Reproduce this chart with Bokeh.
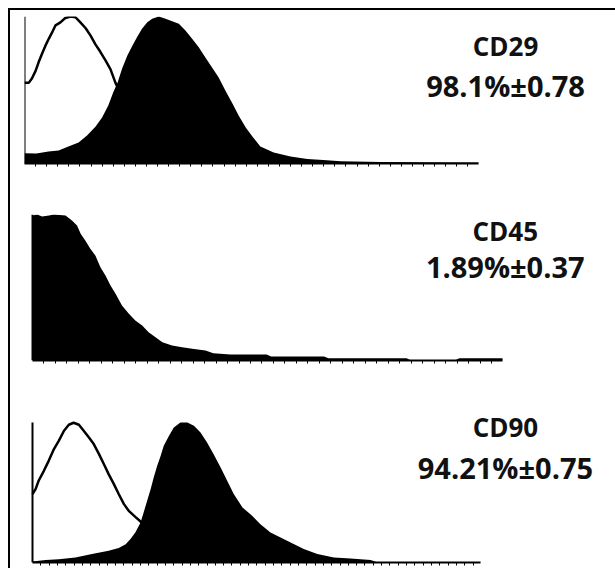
from bokeh.plotting import figure
from bokeh.layouts import column
from bokeh.models import Range1d, LinearAxis, FixedTicker, Label
from bokeh.embed import file_html
from bokeh.resources import INLINE

# ---- data (channel 0..1024, % of max) ----
cd29_iso_ch = [0, 10, 17, 25, 32, 40, 47, 55, 62, 70, 81, 92, 104, 115, 126, 138, 149, 160,
               171, 183, 194, 205, 216, 228, 239, 262, 284, 307, 329, 363]
cd29_iso = [55, 55, 58, 63, 69, 75, 80, 85, 89, 94, 96, 99, 100, 99.5, 96, 92, 87, 81,
            76, 70, 64, 55, 48, 40, 32, 20, 12, 6, 3, 1]
cd29_ch = [0, 27, 54, 77, 99, 122, 141, 160, 175, 189, 200, 210, 220, 232, 243, 254, 265, 277,
           288, 303, 318, 333, 348, 363, 378, 393, 408, 423, 438, 453, 469, 483, 499, 514,
           532, 562, 600, 638, 674, 713, 803, 893, 1024]
cd29 = [7, 6.8, 8.2, 8.8, 11.6, 14.3, 19, 25, 31.3, 39.5, 48.3, 55.1, 64.4, 73.5, 80, 86, 91.6,
        96.1, 98.4, 100, 98.4, 96.8, 95, 90.5, 84.8, 79.1, 72.1, 65.3, 58.5, 49.7, 40.8, 32.7,
        24.5, 18.4, 11.6, 7.5, 4.8, 3.1, 2.4, 1.6, 1, 0.8, 0.7]

cd45_ch = [0, 10, 21, 36, 46, 72, 86, 97, 105, 115, 126, 137, 148, 159, 170, 181, 195, 210,
           224, 239, 253, 268, 283, 304, 326, 348, 377, 394, 431, 510, 520, 635, 645, 815,
           825, 920, 930, 1024]
cd45 = [99.3, 100, 98.6, 99.3, 100, 99.3, 95.9, 92.5, 86.8, 82.2, 76.5, 71.9, 63.9, 58.2, 51.4,
        45.7, 37.7, 32, 27.4, 24, 19.4, 16, 12.5, 10.3, 9.1, 8, 6.8, 5, 4.1, 4.1, 2.7, 2.7,
        1.6, 1.6, 0, 0, 1.6, 1.6]

cd90_iso_ch = [0, 7, 14, 26, 37, 49, 60, 72, 83, 94, 106, 117, 129, 140, 152, 163, 174, 186,
               197, 209, 220, 235, 247, 270, 293, 327, 373, 430]
cd90_iso = [48.9, 52.4, 58.4, 65.5, 72.6, 81, 86.9, 94.1, 98.4, 99.8, 98.4, 94.1, 89.3, 84.6,
            77.4, 70.3, 63.1, 56, 48.9, 41.7, 36.9, 32.6, 29.3, 20, 12.9, 7.1, 2.9, 0.7]
cd90_ch = [0, 30, 60, 98, 136, 174, 197, 213, 224, 235, 247, 254, 262, 270, 277, 285, 293, 300,
           312, 323, 338, 354, 369, 384, 399, 414, 430, 445, 460, 480, 502, 521, 544, 567,
           590, 620, 651, 689, 727, 773, 786, 1024]
cd90 = [0.7, 1.7, 2.4, 3.6, 6, 8.4, 10.3, 13.1, 16.7, 21.4, 28.6, 35.7, 44.1, 52.4, 60.7, 69.1,
        76.2, 83.4, 90.5, 96.4, 100, 100, 97.6, 92.9, 85.7, 77.4, 67.9, 58.4, 48.9, 39.3, 33.4,
        27.4, 21.4, 17.9, 14.3, 9.6, 6, 3.6, 2.9, 1.8, 0.4, 0.3]

markers = ["CD29", "CD45", "CD90"]
stats = ["98.1%\u00b10.78", "1.89%\u00b10.37", "94.21%\u00b10.75"]


def panel(height, top, bottom, x_start, x_end, y_end, step, ch, vals, iso_ch, iso_vals,
          name, stat, tx, ty1, ty2):
    p = figure(width=605, height=height, x_range=Range1d(x_start, x_end),
               y_range=Range1d(0, y_end),
               output_backend="svg", toolbar_location=None,
               x_axis_location=None, y_axis_location=None,
               min_border_left=14, min_border_right=0,
               min_border_top=top, min_border_bottom=bottom)
    p.outline_line_color = None
    p.grid.visible = False
    p.background_fill_color = "white"
    p.border_fill_color = "white"
    xa = LinearAxis(ticker=FixedTicker(ticks=list(range(step, 1025, step))), bounds=(0, 1024),
                    axis_line_width=2, axis_line_color="black",
                    major_tick_out=3, major_tick_in=0, major_tick_line_width=1,
                    major_tick_line_color="black",
                    minor_tick_out=0, minor_tick_in=0,
                    major_label_text_font_size="0px", major_label_standoff=0)
    p.add_layout(xa, "below")
    ya = LinearAxis(ticker=FixedTicker(ticks=[]), bounds=(0, 100), fixed_location=0,
                    axis_line_width=2, axis_line_color="black",
                    major_tick_out=0, major_tick_in=0, minor_tick_out=0, minor_tick_in=0,
                    major_label_text_font_size="0px", major_label_standoff=0)
    p.add_layout(ya, "left")
    if iso_ch is not None:
        p.line(iso_ch, iso_vals, line_color="black", line_width=2.5)
    p.varea(x=ch, y1=[0] * len(ch), y2=vals, fill_color="black")
    for txt, ty, fs in ((name, ty1, "26px"), (stat, ty2, "29px")):
        p.add_layout(Label(x=tx, y=ty, text=txt, text_font="Open Sans", text_font_style="bold",
                           text_font_size=fs, text_color="#111111",
                           text_align="center", text_baseline="alphabetic"))
    return p


p1 = panel(180, 6, 27, 0, 1333, 100, 25, cd29_ch, cd29, cd29_iso_ch, cd29_iso,
           markers[0], stats[0], 1085, 79.6, 53.1)
p2 = panel(190, 24, 20, -17.4, 1270.2, 100, 25, cd45_ch, cd45, None, None,
           markers[1], stats[1], 1030, 89.0, 64.3)
p3 = panel(188, 20, 6, -18.3, 1332.6, 115.71, 19, cd90_ch, cd90, cd90_iso_ch, cd90_iso,
           markers[2], stats[2], 1081, 96.6, 68.0)

layout = column(p1, p2, p3, spacing=0,
                styles={"border-top": "2px solid black", "border-left": "2px solid black",
                        "margin-left": "8px", "margin-top": "8px"})

open("out.html", "w").write(file_html(layout, INLINE))
